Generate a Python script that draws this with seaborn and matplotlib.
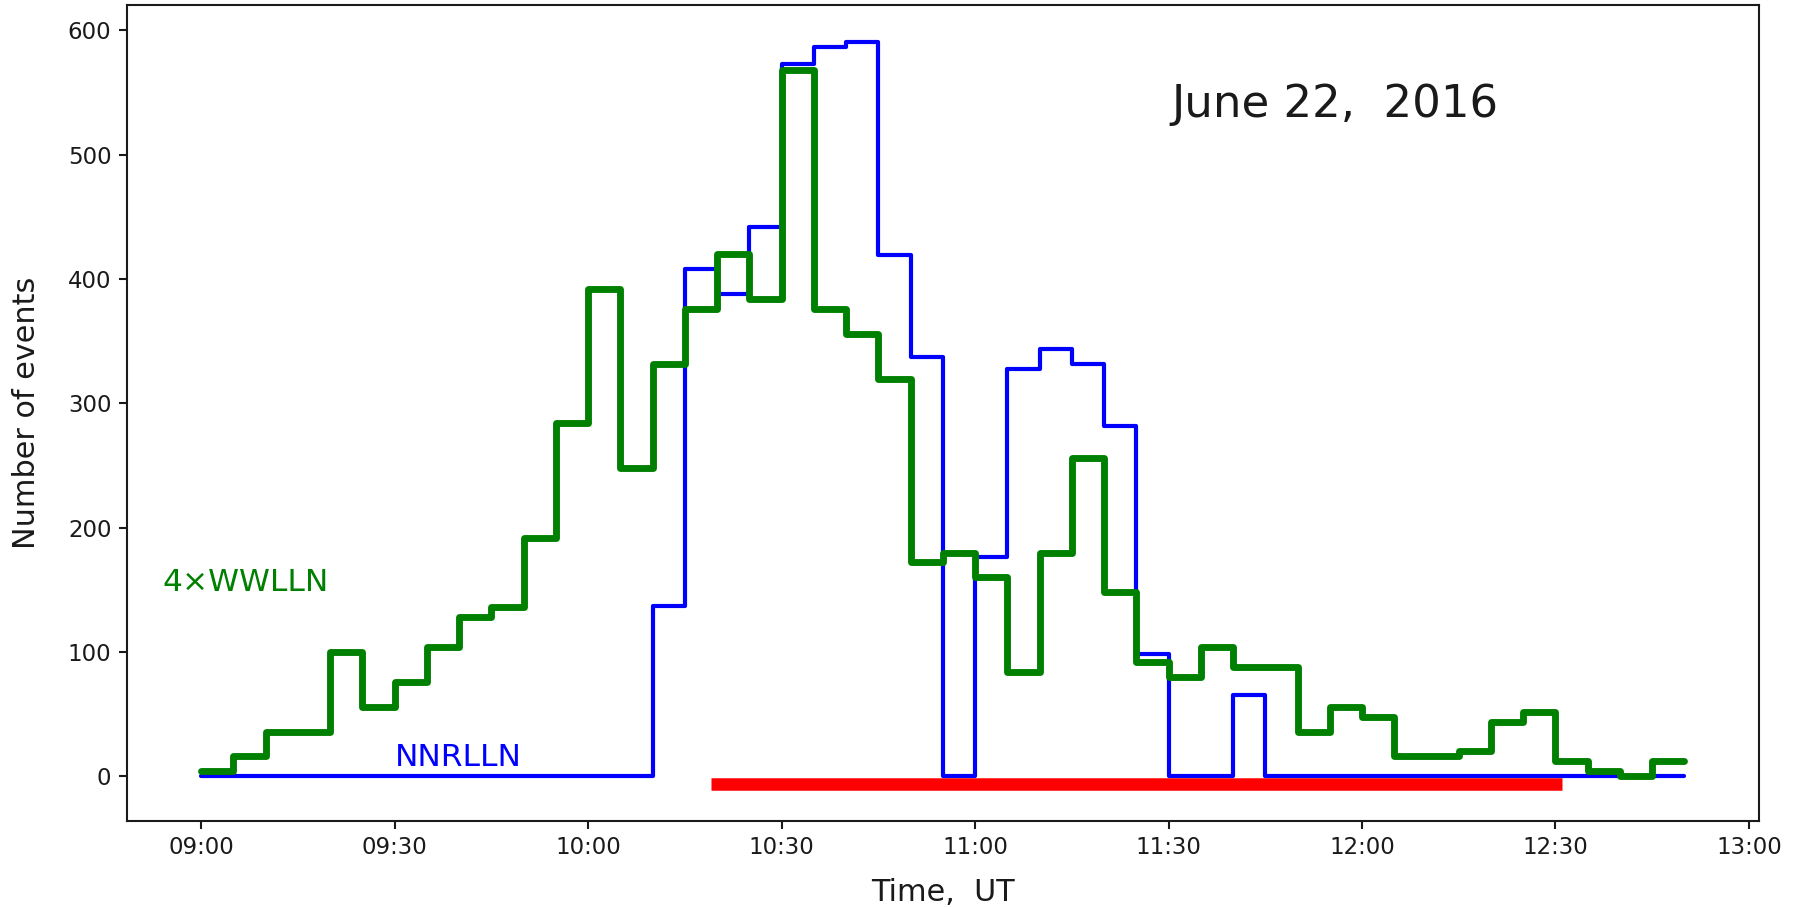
import numpy as np
import pandas as pd
import matplotlib
matplotlib.use("Agg")
import matplotlib.pyplot as plt
import matplotlib.dates as mdates
import seaborn as sns

# 5-minute bins, 09:00-12:50 UT, 22 June 2016
bin_edges = pd.date_range("2016-06-22 09:00", "2016-06-22 12:50", freq="5min")

# Number of lightning events per bin
nnrlln = [0, 0, 0, 0, 0, 0, 0, 0, 0, 0, 0, 0, 0, 0,
          137, 408, 388, 442, 573, 587, 591, 419, 337, 0,
          176, 328, 344, 332, 282, 98, 0, 0, 65, 0,
          0, 0, 0, 0, 0, 0, 0, 0, 0, 0, 0, 0]
wwlln_x4 = [4, 16, 36, 36, 100, 56, 76, 104, 128, 136, 192, 284, 392, 248,
            332, 376, 420, 384, 568, 376, 356, 320, 172, 180,
            160, 84, 180, 256, 148, 92, 80, 104, 88, 88,
            36, 56, 48, 16, 16, 20, 44, 52, 12, 4, 0, 12]

# Interval marked along the bottom
burst_times = ["2016-06-22 10:19", "2016-06-22 12:31"]
burst_level = [-6, -6]

sns.set_theme(style="ticks")
plt.rcParams["font.family"] = ["DejaVu Sans"]
plt.rcParams.update({
    "axes.edgecolor": "0.1",
    "axes.linewidth": 1.0,
    "xtick.major.size": 4,
    "ytick.major.size": 4,
    "xtick.major.width": 1.0,
    "ytick.major.width": 1.0,
    "xtick.color": "0.1",
    "ytick.color": "0.1",
    "text.color": "0.1",
    "axes.labelcolor": "0.1",
})

fig, ax = plt.subplots(figsize=(12, 907 / 150), dpi=150)
fig.subplots_adjust(left=0.0706, right=0.977, bottom=0.095, top=0.995)

df = pd.DataFrame({
    "time": bin_edges,
    "NNRLLN": nnrlln + [nnrlln[-1]],
    "WWLLN": wwlln_x4 + [wwlln_x4[-1]],
})
sns.lineplot(data=df, x="time", y="NNRLLN", color="blue", linewidth=2.0,
             drawstyle="steps-post", ax=ax)
sns.lineplot(data=df, x="time", y="WWLLN", color="green", linewidth=3.3,
             drawstyle="steps-post", ax=ax)

burst = pd.DataFrame({"time": pd.to_datetime(burst_times), "level": burst_level})
sns.lineplot(data=burst, x="time", y="level", color="red", linewidth=6,
             solid_capstyle="butt", ax=ax)

ax.xaxis.set_major_locator(mdates.MinuteLocator(byminute=[0, 30]))
ax.xaxis.set_major_formatter(mdates.DateFormatter("%H:%M"))
ax.set_yticks([0, 100, 200, 300, 400, 500, 600])
ax.tick_params(labelsize=11)

ax.set_xlabel("Time,  UT", fontsize=14.5, labelpad=9)
ax.set_ylabel("Number of events", fontsize=14.5, labelpad=13)

t = lambda s: mdates.date2num(pd.Timestamp(s))
ax.text(t("2016-06-22 11:30:30"), 530, "June 22,  2016", fontsize=21.6,
        ha="left", va="baseline")
ax.text(t("2016-06-22 08:54"), 149, "4\u00d7WWLLN", fontsize=15,
        color="green", ha="left", va="baseline")
ax.text(t("2016-06-22 09:30"), 8, "NNRLLN", fontsize=15,
        color="blue", ha="left", va="baseline")

for side in ["top", "right", "left", "bottom"]:
    ax.spines[side].set_visible(True)

fig.savefig("out.png", dpi=150)
